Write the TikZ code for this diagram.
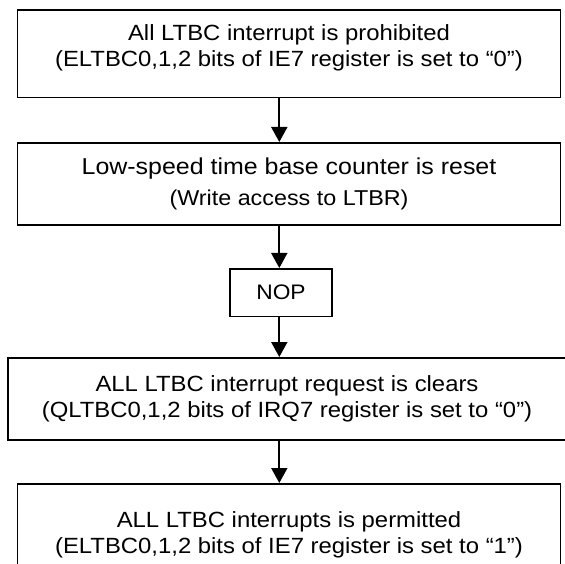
\documentclass[tikz,border=0pt]{standalone}
\usepackage{fontspec}
\setmainfont{Liberation Sans}
\newfontfamily\boxfont[FakeStretch=1.085]{Liberation Sans}
\usetikzlibrary{arrows.meta}
\tikzset{
  stepbox/.style = {
    rectangle, draw=black, line width=1.8pt,
    minimum width=543pt, minimum height=82pt,
    align=center, inner sep=0pt, outer sep=0pt,
    font=\boxfont\fontsize{22}{26}\selectfont
  },
  nopbox/.style = {
    stepbox, minimum width=102pt, minimum height=47.5pt,
    font=\boxfont\fontsize{21}{26}\selectfont
  },
  flow/.style = {-{Triangle[length=15pt,width=16pt]},
                 line width=1.8pt, shorten >=1pt}
}

\begin{document}
\begin{tikzpicture}[x=1pt, y=-1pt]
  \useasboundingbox (0, 0) rectangle (565, 564);

  %% Line that the arrows run along
  \coordinate (spine) at (279.3, 0);

  %% Steps
  \node[stepbox, minimum height=87.5pt, text depth=15.6pt] (b1) at (289, 53.75)
    {All LTBC interrupt is prohibited\\
     (ELTBC0,1,2 bits of IE7 register is set to “0”)};
  \node[stepbox, font=\boxfont\fontsize{23}{31}\selectfont] (b2) at (289, 184)
    {Low-speed time base counter is reset\\
     {\fontsize{21.5}{31}\selectfont (Write access to LTBR)}};
  \node[nopbox] (nop) at (281, 292.75) {NOP};
  \node[stepbox, minimum width=558pt] (b3) at (287, 399)
    {ALL LTBC interrupt request is clears\\
     (QLTBC0,1,2 bits of IRQ7 register is set to “0”)};
  \node[stepbox, minimum height=102.6pt] (b4) at (289, 535.3)
    {ALL LTBC interrupts is permitted\\
     (ELTBC0,1,2 bits of IE7 register is set to “1”)};

  %% Arrows
  \draw[flow] (b1.south -| spine) -- (b2.north -| spine);
  \draw[flow] (b2.south -| spine) -- (nop.north -| spine);
  \draw[flow] (nop.south -| spine) -- (b3.north -| spine);
  \draw[flow] (b3.south -| spine) -- (b4.north -| spine);

\end{tikzpicture}
\end{document}
